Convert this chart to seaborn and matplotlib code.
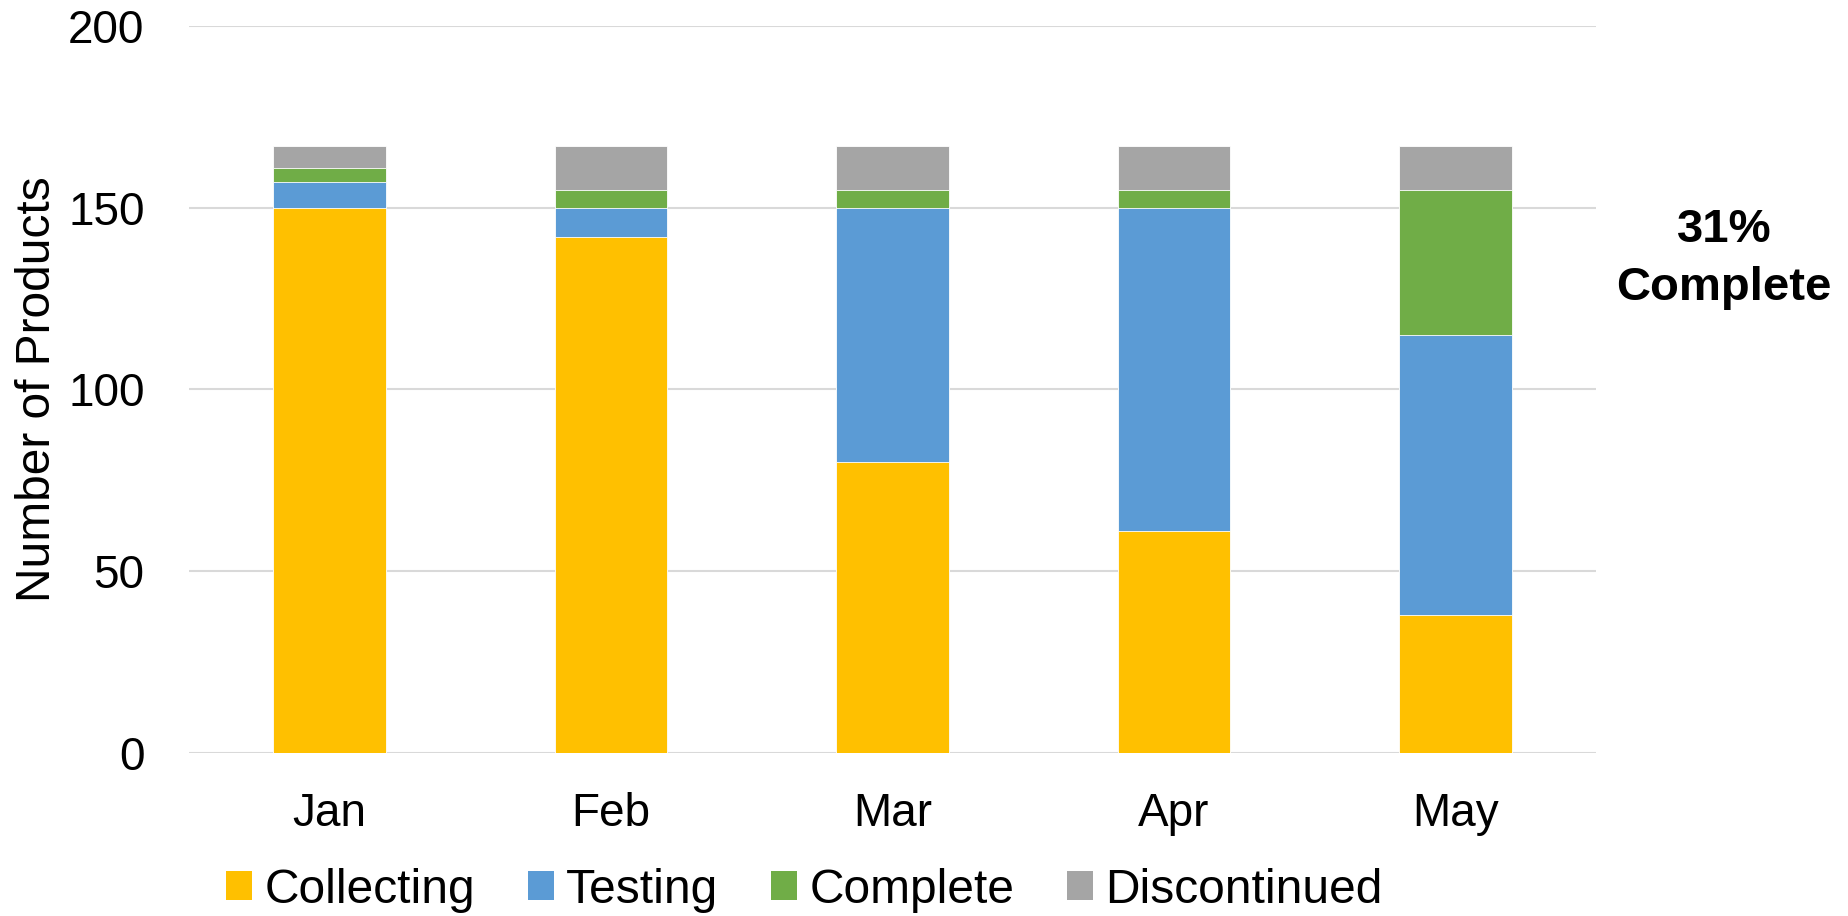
import matplotlib
matplotlib.use("Agg")
import matplotlib.pyplot as plt
import seaborn as sns
import pandas as pd
import numpy as np
from matplotlib.patches import Patch

months = ["Jan", "Feb", "Mar", "Apr", "May"]
collecting = [150, 142, 80, 61, 38]
testing = [7, 8, 70, 89, 77]
complete = [4, 5, 5, 5, 40]
discontinued = [6, 12, 12, 12, 12]

series_names = ["Collecting", "Testing", "Complete", "Discontinued"]
colors = ["#FFC000", "#5B9BD5", "#70AD47", "#A5A5A5"]

sns.set_theme(style="white")
plt.rcParams["font.family"] = ["Liberation Sans", "DejaVu Sans"]
plt.rcParams["text.color"] = "black"
plt.rcParams["axes.labelcolor"] = "black"
plt.rcParams["xtick.color"] = "black"
plt.rcParams["ytick.color"] = "black"

df = pd.DataFrame({"month": months, "Collecting": collecting, "Testing": testing,
                   "Complete": complete, "Discontinued": discontinued})
cum = df[series_names].cumsum(axis=1)

fig = plt.figure(figsize=(18.49, 9.16), dpi=100)
ax = fig.add_axes([0.1022, 0.178, 0.7610, 0.7936])

for name, col in reversed(list(zip(series_names, colors))):
    sns.barplot(x=df["month"], y=cum[name], color=col, width=0.4, ax=ax,
                saturation=1, edgecolor="white", linewidth=0.6, zorder=2)

ax.set_ylim(0, 200)
ax.set_yticks([0, 50, 100, 150, 200])
ax.set_xlim(-0.5, 4.5)
ax.yaxis.grid(True, color="#D9D9D9", linewidth=1.5, zorder=0)
ax.set_axisbelow(True)
for s in ax.spines.values():
    s.set_visible(False)
ax.tick_params(axis="both", length=0, labelsize=33, colors="black")
ax.tick_params(axis="y", pad=32)
ax.tick_params(axis="x", pad=28)
ax.set_xlabel("")
ax.set_ylabel("Number of Products", fontsize=34.5, color="black")
ax.yaxis.set_label_coords(-0.092, 0.5)

fig.text(0.9324, 0.736, "31%", fontsize=34, fontweight="bold", ha="center", va="baseline", color="black")
fig.text(0.9324, 0.6725, "Complete", fontsize=34, fontweight="bold", ha="center", va="baseline", color="black")

handles = [Patch(facecolor=c, edgecolor="none", label=n) for n, c in zip(series_names, colors)]
fig.legend(handles=handles, loc="center", bbox_to_anchor=(0.435, 0.028), ncol=4,
           frameon=False, fontsize=34.5, handlelength=0.55, handleheight=0.55,
           handletextpad=0.25, columnspacing=1.1, borderaxespad=0)

fig.savefig("out.png", dpi=100)
